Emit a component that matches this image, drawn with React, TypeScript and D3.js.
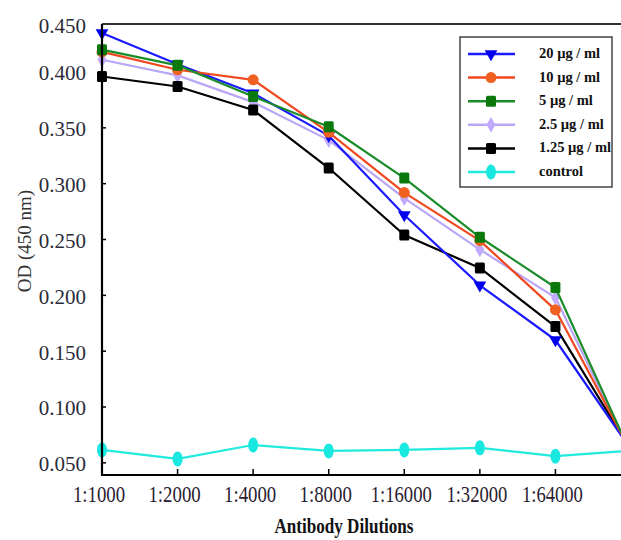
import React from "react";
import * as d3 from "d3";

const dilutions = ["1:1000", "1:2000", "1:4000", "1:8000", "1:16000", "1:32000", "1:64000", "1:128000"];
const yTickValues = [0.05, 0.1, 0.15, 0.2, 0.25, 0.3, 0.35, 0.4, 0.45];

const s20 = [0.435, 0.407, 0.381, 0.343, 0.272, 0.209, 0.16, 0.062];
const s10 = [0.418, 0.402, 0.393, 0.346, 0.292, 0.249, 0.187, 0.06];
const s5 = [0.42, 0.406, 0.378, 0.351, 0.305, 0.252, 0.207, 0.058];
const s25 = [0.411, 0.397, 0.373, 0.339, 0.287, 0.241, 0.198, 0.059];
const s125 = [0.396, 0.387, 0.366, 0.314, 0.254, 0.2245, 0.172, 0.061];
const sControl = [0.0616, 0.0535, 0.066, 0.0607, 0.0616, 0.0634, 0.056, 0.061];

const seriesNames = ["20 µg / ml", "10 µg / ml", "5 µg / ml", "2.5 µg / ml", "1.25 µg / ml", "control"];

type Series = { name: string; values: number[]; color: string; marker: string; markerColor: string };

const series: Series[] = [
  { name: seriesNames[0], values: s20, color: "#1a1aff", marker: "tri", markerColor: "#0000ee" },
  { name: seriesNames[1], values: s10, color: "#f0481e", marker: "circle", markerColor: "#f06020" },
  { name: seriesNames[2], values: s5, color: "#1b8c2a", marker: "square", markerColor: "#0a780a" },
  { name: seriesNames[3], values: s25, color: "#b9a6f6", marker: "diamond", markerColor: "#c2aaff" },
  { name: seriesNames[4], values: s125, color: "#000000", marker: "square", markerColor: "#000000" },
  { name: seriesNames[5], values: sControl, color: "#22eadf", marker: "ellipse", markerColor: "#19e8e0" },
];

const drawOrder = [3, 4, 0, 1, 2, 5];

const W = 621;
const H = 540;
const left = 102;
const top = 24;
const bottom = 475;
const right = 660;

const x = d3.scaleLinear().domain([0, dilutions.length - 1]).range([102, 631]);
const y = d3.scaleLinear().domain([0.4, 0.1]).range([72, 407]);

function Marker({ kind, cx, cy, color }: { kind: string; cx: number; cy: number; color: string }) {
  if (kind === "tri") {
    const p = d3.symbol(d3.symbolTriangle, 70)();
    return <path d={p || ""} transform={`translate(${cx},${cy}) rotate(180)`} fill={color} />;
  }
  if (kind === "circle") return <circle cx={cx} cy={cy} r={5.5} fill={color} />;
  if (kind === "square") return <rect x={cx - 5} y={cy - 5.5} width={10} height={11} rx={1.5} fill={color} />;
  if (kind === "diamond") {
    const p = d3.symbol(d3.symbolDiamond, 70)();
    return <path d={p || ""} transform={`translate(${cx},${cy})`} fill={color} />;
  }
  return <ellipse cx={cx} cy={cy} rx={5} ry={7.5} fill={color} />;
}

export default function App() {
  const line = d3
    .line<number>()
    .x((_, i) => x(i))
    .y((v) => y(v));

  const legendX0 = 460;
  const legendY0 = 37;
  const legendRow = (i: number) => 54 + i * 23.6;

  return (
    <svg
      width={W}
      height={H}
      style={{ position: "absolute", left: 0, top: 0, background: "#fff" }}
      fontFamily="'Liberation Serif', 'Times New Roman', serif"
    >
      <rect x={0} y={0} width={W} height={H} fill="#fff" />

      {/* data */}
      {drawOrder.map((si) => {
        const s = series[si];
        return (
          <g key={s.name}>
            <path d={line(s.values) || ""} fill="none" stroke={s.color} strokeWidth={2.2} strokeLinejoin="round" />
            {s.values.map((v, i) => (
              <Marker key={i} kind={s.marker} cx={x(i)} cy={y(v)} color={s.markerColor} />
            ))}
          </g>
        );
      })}

      {/* frame */}
      <line x1={left} x2={right} y1={top} y2={top} stroke="#333" strokeWidth={2} />
      <line x1={left} x2={left} y1={top} y2={bottom} stroke="#000" strokeWidth={2.2} />
      <line x1={left - 1} x2={right} y1={bottom} y2={bottom} stroke="#000" strokeWidth={2.2} />

      {/* y ticks */}
      {yTickValues.map((t) => {
        const ty = y(t);
        return (
          <g key={t}>
            {ty > top + 4 && ty < bottom - 4 && (
              <line x1={left} x2={left + 4} y1={ty} y2={ty} stroke="#000" strokeWidth={1.5} />
            )}
            <text
              x={86}
              y={Math.max(ty, 25) + 1}
              dy="0.35em"
              textAnchor="end"
              fontSize={21}
              fill="#2b2b3a"
            >
              {d3.format(".3f")(t)}
            </text>
          </g>
        );
      })}

      {/* x ticks */}
      {dilutions.map((d, i) => {
        const tx = x(i);
        return (
          <g key={d}>
            {i > 0 && <line x1={tx} x2={tx} y1={bottom} y2={bottom - 6} stroke="#000" strokeWidth={1.5} />}
            {tx < 600 && (
              <text
                x={tx - 3}
                y={502}
                textAnchor="middle"
                fontSize={24}
                fill="#2a2030"
                textLength={d.length * 8.7}
                lengthAdjust="spacingAndGlyphs"
              >
                {d}
              </text>
            )}
          </g>
        );
      })}

      {/* axis titles */}
      <text
        x={344}
        y={533}
        textAnchor="middle"
        fontSize={20}
        fontWeight="bold"
        fill="#111"
        textLength={139}
        lengthAdjust="spacingAndGlyphs"
      >
        Antibody Dilutions
      </text>
      <text
        transform={`translate(31,241) rotate(-90)`}
        textAnchor="middle"
        fontSize={19}
        fill="#333"
      >
        OD (450 nm)
      </text>

      {/* legend */}
      <rect x={legendX0} y={legendY0} width={152} height={150} fill="#fff" stroke="#444" strokeWidth={1.5} />
      {series.map((s, i) => {
        const ry = legendRow(i);
        return (
          <g key={s.name}>
            <line x1={468} x2={515} y1={ry} y2={ry} stroke={s.color} strokeWidth={2.5} />
            <Marker kind={s.marker} cx={491} cy={ry} color={s.markerColor} />
            <text x={539} y={ry - 1} dy="0.35em" fontSize={14.5} fontWeight="bold" fill="#111">
              {s.name}
            </text>
          </g>
        );
      })}
    </svg>
  );
}
